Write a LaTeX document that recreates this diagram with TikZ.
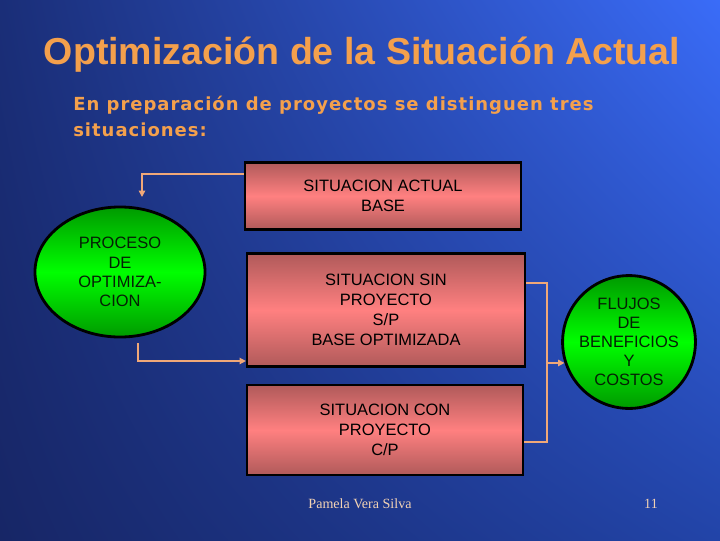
\documentclass[tikz,border=0pt]{standalone}
\usepackage{fontspec}
\setmainfont{Liberation Sans}
\newfontfamily\subfont{DejaVu Sans}[LetterSpace=5.5]
\newfontfamily\footfont{Liberation Serif}
\usetikzlibrary{shapes.geometric,arrows.meta,shadings}
\definecolor{bgul}{HTML}{1A2E78}
\definecolor{bgur}{HTML}{3A6CF8}
\definecolor{bgll}{HTML}{172666}
\definecolor{bglr}{HTML}{2244A8}
\definecolor{titleor}{HTML}{F4A04C}
\definecolor{linkor}{HTML}{F0A878}
\definecolor{boxedge}{HTML}{B05A5A}
\definecolor{boxmid}{HTML}{FF8080}
\definecolor{greenedge}{HTML}{009A00}
\definecolor{greenmid}{HTML}{00FF00}
\definecolor{greentext}{HTML}{052005}
\definecolor{footcol}{HTML}{F2D2B4}
\begin{document}
\begin{tikzpicture}[x=0.025cm,y=-0.025cm,%
% common options for the situation boxes:
box/.style = {draw, line width=1.5pt, top color=boxedge, bottom color=boxedge,
            middle color=boxmid, align=center, text=black, inner sep=0,
            font=\fontsize{11.7}{14.2}\selectfont},
% common options for the green shapes:
blob/.style = {draw, line width=2pt, top color=greenedge, bottom color=greenedge,
            middle color=greenmid, align=center, text=greentext, inner sep=0,
            font=\fontsize{11.7}{13.6}\selectfont},
% connectors:
link/.style = {draw=linkor, line width=1pt},
linkarr/.style = {-{Triangle[length=4.5pt,width=4.5pt]}}]
\shade[upper left=bgul, upper right=bgur, lower left=bgll, lower right=bglr]
  (0,0) rectangle (720,540);
\useasboundingbox (0,0) rectangle (720,540);
\node[anchor=base,text=titleor,font=\bfseries\fontsize{26.7}{30}\selectfont] (T0) at (362,64) {Optimización de la Situación Actual};
\node[anchor=base west,inner sep=0,text=titleor,font=\subfont\bfseries\fontsize{12.8}{18}\selectfont] (T1) at (73,110) {En preparación de proyectos se distinguen tres};
\node[anchor=base west,inner sep=0,text=titleor,font=\subfont\bfseries\fontsize{12.8}{18}\selectfont] (T2) at (73,136) {situaciones:};
\node[box,minimum width=6.9cm,minimum height=1.675cm] (S1) at (383,196) {SITUACION ACTUAL\\BASE};
\node[box,minimum width=6.95cm,minimum height=2.825cm] (S2) at (386,310) {SITUACION SIN\\PROYECTO\\S/P\\BASE OPTIMIZADA};
\node[box,minimum width=6.9cm,minimum height=2.25cm] (S3) at (385,430) {SITUACION CON\\PROYECTO\\C/P};
\node[blob,ellipse,minimum width=4.25cm,minimum height=3.25cm] (P0) at (120,272) {PROCESO\\DE\\OPTIMIZA-\\CION};
\node[blob,circle,minimum size=3.3cm] (F0) at (629,342) {FLUJOS\\DE\\BENEFICIOS\\Y\\COSTOS};
\node[anchor=base,text=footcol,font=\footfont\fontsize{10}{12}\selectfont] (N0) at (360,508) {Pamela Vera Silva};
\node[anchor=base,text=footcol,font=\footfont\fontsize{10}{12}\selectfont] (N1) at (651,508) {11};
\coordinate (k1) at (142,174);
\coordinate (k2) at (142,197);
\coordinate (k3) at (138,343);
\coordinate (k4) at (138,361);
\coordinate (k5) at (547,283);
\coordinate (k6) at (547,442);
\draw[link,linkarr] (S1.west |- k1) -| (k2);
\draw[link,linkarr] (k3) -- (k4) -- (S2.west |- k4);
\draw[link] (S2.east |- k5) -- (k5) -- (k6) -- (S3.east |- k6);
\draw[link,linkarr] (k5 |- F0.198) -- (F0.198);
\end{tikzpicture}
\end{document}
